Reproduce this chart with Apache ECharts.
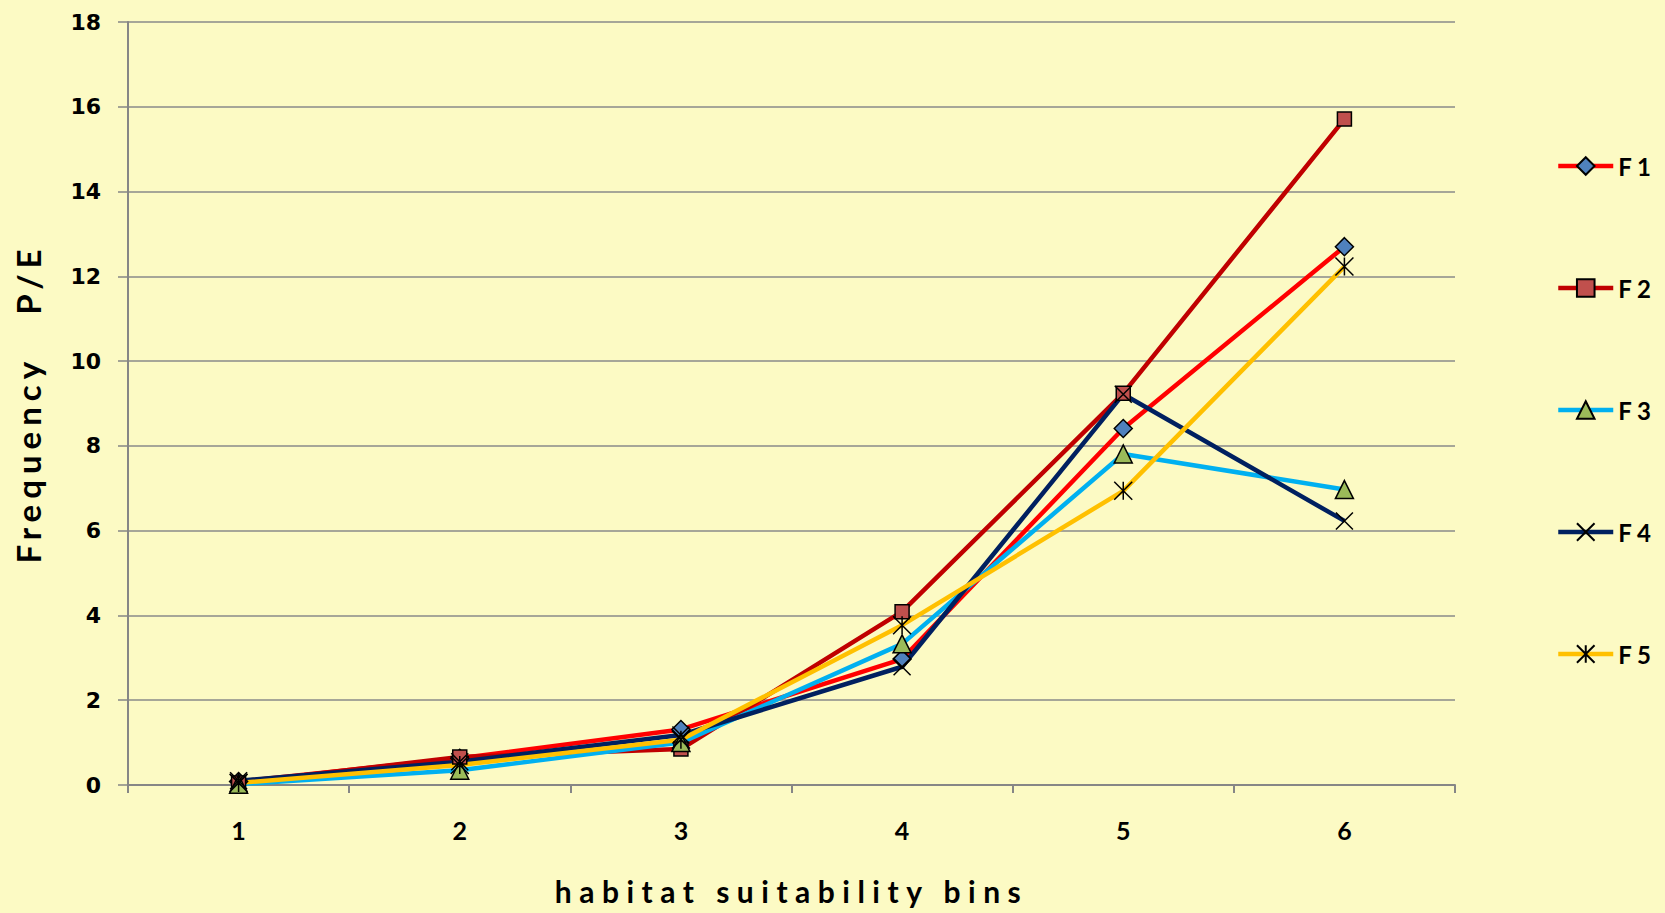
<!DOCTYPE html>
<html>
<head>
<meta charset="utf-8">
<script src="https://cdn.jsdelivr.net/npm/echarts@6/dist/echarts.min.js"></script>
<style>
  html, body { margin: 0; padding: 0; background: #fcfac4; }
  #chart { width: 1665px; height: 913px; }
  #chart text { white-space: pre; }
  /* spaced-out axis titles */
  #chart text[style*="30px"] { letter-spacing: 7.5px; }
  #chart text[style*="33px"] { letter-spacing: 6px; }
</style>
</head>
<body>
<div id="chart"></div>
<script>
// habitat suitability bins
const categories = ['1', '2', '3', '4', '5', '6'];

// Frequency P/E per bin, one array per fold
const f1 = [0.08, 0.63, 1.31, 2.97, 8.41, 12.70];
const f2 = [0.05, 0.66, 0.85, 4.09, 9.24, 15.71];
const f3 = [0.02, 0.35, 1.00, 3.33, 7.81, 6.97];
const f4 = [0.10, 0.55, 1.18, 2.79, 9.22, 6.23];
const f5 = [0.05, 0.47, 1.07, 3.77, 6.94, 12.23];

const seriesNames = ['F 1', 'F 2', 'F 3', 'F 4', 'F 5'];
const yTicks = { min: 0, max: 18, interval: 2 };

const crossPath = 'path://M0,0L10,10M10,0L0,10';
const starPath = 'path://M0,0L10,10M10,0L0,10M5,0L5,10';

function lineSeries(name, data, lineColor, symbol, size, fill) {
  return {
    name: name,
    type: 'line',
    data: data,
    symbol: symbol,
    symbolSize: size,
    showSymbol: true,
    lineStyle: { color: lineColor, width: 4.5 },
    itemStyle: { color: fill, borderColor: '#000000', borderWidth: 1.5 },
    emphasis: { disabled: true },
    animation: false
  };
}

const chart = echarts.init(document.getElementById('chart'), null, { renderer: 'svg' });

chart.setOption({
  backgroundColor: '#fcfac4',
  grid: { left: 128, right: 210, top: 22, bottom: 128, containLabel: false },
  legend: {
    orient: 'vertical',
    left: 1551,
    top: 149,
    itemWidth: 55,
    itemHeight: 22,
    itemGap: 98,
    data: seriesNames,
    lineStyle: { width: 4.5 },
    textStyle: {
      fontFamily: 'Lato',
      fontWeight: 'bold',
      fontSize: 24,
      lineHeight: 22,
      color: '#000000'
    }
  },
  xAxis: {
    type: 'category',
    data: categories,
    boundaryGap: true,
    name: 'habitat suitability bins',
    nameLocation: 'middle',
    nameGap: 91,
    nameTextStyle: { fontFamily: 'Lato', fontWeight: 'bold', fontSize: 30, color: '#000000' },
    axisLine: { lineStyle: { color: '#868686', width: 2 } },
    axisTick: { show: true, length: 8, alignWithLabel: false, lineStyle: { color: '#868686', width: 2 } },
    axisLabel: { margin: 32, fontFamily: 'Lato', fontWeight: 'bold', fontSize: 25, color: '#000000' },
    splitLine: { show: false }
  },
  yAxis: {
    type: 'value',
    min: yTicks.min,
    max: yTicks.max,
    interval: yTicks.interval,
    name: 'Frequency   P/E',
    nameLocation: 'middle',
    nameGap: 84,
    nameTextStyle: { fontFamily: 'Lato', fontWeight: 'bold', fontSize: 33, color: '#000000' },
    axisLine: { show: true, lineStyle: { color: '#868686', width: 2 } },
    axisTick: { show: true, length: 10, lineStyle: { color: '#868686', width: 1.5 } },
    axisLabel: { margin: 27, fontFamily: 'DejaVu Sans', fontWeight: 'bold', fontSize: 22, color: '#000000' },
    splitLine: { show: true, lineStyle: { color: '#8a8a8a', width: 1.5 } }
  },
  series: [
    lineSeries(seriesNames[0], f1, '#ff0000', 'diamond', 18, '#4f81bd'),
    lineSeries(seriesNames[1], f2, '#c00000', 'rect', 14, '#c0504d'),
    lineSeries(seriesNames[2], f3, '#00b0f0', 'triangle', 18, '#9bbb59'),
    lineSeries(seriesNames[3], f4, '#002060', crossPath, 17, '#000000'),
    lineSeries(seriesNames[4], f5, '#ffc000', starPath, 18, '#000000')
  ]
});
</script>
</body>
</html>
